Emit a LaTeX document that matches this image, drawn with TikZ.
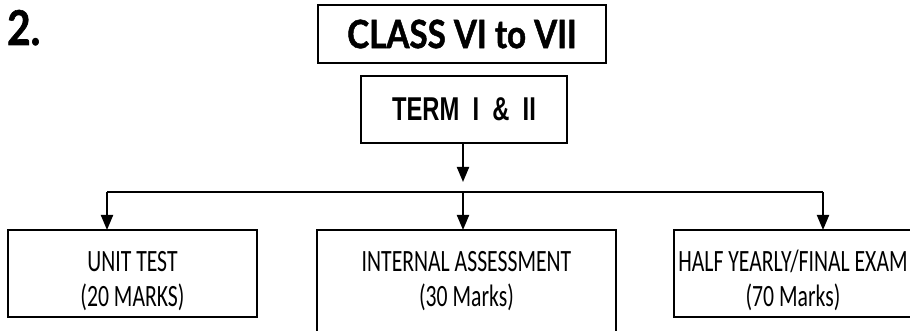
\documentclass[tikz,border=0pt]{standalone}
\usepackage{fontspec}
\setmainfont{Carlito}
\newfontfamily\headfont{Lato}[FakeStretch=0.85,FakeBold=1.2]
\newfontfamily\termfont{Liberation Sans}[FakeStretch=0.72]
\newfontfamily\boxfont{Carlito}[FakeStretch=0.7]
\usetikzlibrary{arrows.meta,positioning}
\tikzset{block/.style={draw, 
                       rectangle, 
                       line width=2pt,
                       outer sep=0pt,
                       inner sep=0pt,
                       align=center,
                       font=\boxfont\fontsize{31}{35}\selectfont,
                       text height=73pt,
                       text depth=7pt,
                       minimum height=87pt},
         headblock/.style={block,
                       text height=,
                       text depth=},
         junction/.style={coordinate}}

\begin{document}
\begin{tikzpicture}[x=1pt,y=1pt,>={Triangle[width=12pt,length=15pt]},line width=2pt]
    \useasboundingbox (0,0) rectangle (910,-331);
    % We start by placing the heading blocks
    \node [anchor=base west, inner sep=0pt,
           font=\headfont\bfseries\fontsize{48}{48}\selectfont] (number) at (6,-45) {2.};
    \node [headblock, font=\headfont\bfseries\fontsize{39}{39}\selectfont,
           minimum width=288pt, minimum height=58pt] (class) at (462,-34) {CLASS VI to VII};
    \node [headblock, font=\termfont\bfseries\fontsize{33}{33}\selectfont,
           minimum width=206pt, minimum height=67pt,
           below=13pt of class, xshift=2pt] (term) {TERM \ I \ \& \ II};
    % Then the three assessment blocks
    \node [block, minimum width=299pt, minimum height=105pt, text depth=25pt,
           below=87pt of term, xshift=2.5pt] (internal) {INTERNAL ASSESSMENT\\(30 Marks)};
    \node [block, minimum width=249pt,
           left=60pt of internal.north west, anchor=north east] (unit) {UNIT TEST\\(20 MARKS)};
    \node [block, minimum width=238pt,
           right=58pt of internal.north east, anchor=north west] (exam) {HALF YEARLY/FINAL EXAM\\(70 Marks)};
    % Junctions on the branch line
    \coordinate (split) at (463,-192);
    \coordinate (lefttee) at (107,-192);
    \coordinate (righttee) at (823,-192);
    \coordinate [above=10pt of split] (termtip);
    % We draw the edges from the term block to the three blocks
    \draw [->] (term.south -| termtip) -- (termtip);
    \draw (lefttee) -- (righttee);
    \draw [->] (lefttee) -- (lefttee |- unit.north);
    \draw [->] (split) -- (split |- internal.north);
    \draw [->] (righttee) -- (righttee |- exam.north);
\end{tikzpicture}
\end{document}
